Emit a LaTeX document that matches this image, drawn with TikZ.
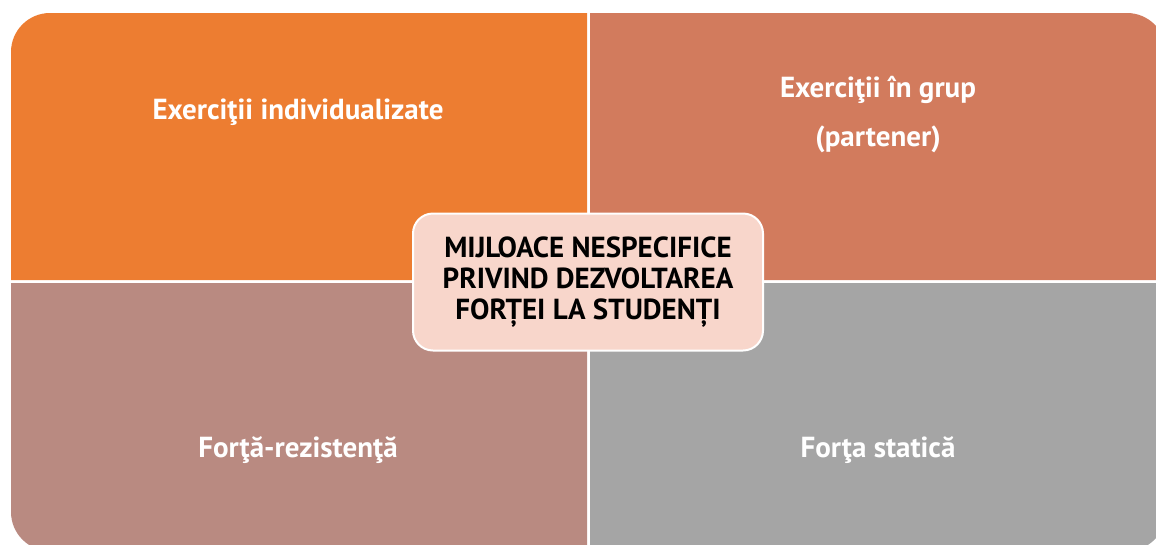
\documentclass[tikz,border=0pt]{standalone}
\usepackage{fontspec}
\setmainfont{PT Sans}
\definecolor{orangeq}{HTML}{ED7D31}
\definecolor{rustq}{HTML}{D27B5D}
\definecolor{roseq}{HTML}{B98A81}
\definecolor{greyq}{HTML}{A5A5A5}
\definecolor{pinkc}{HTML}{F8D6CB}
\tikzset{
  lbl/.style={text=white,font=\fontsize{29}{49}\selectfont\bfseries,align=center},
  hub/.style={rectangle,rounded corners=20pt,fill=pinkc,draw=white,line width=2pt,
    minimum width=350pt,minimum height=137pt,align=center,
    font=\fontsize{29}{31}\selectfont\bfseries}
}
\begin{document}
\begin{tikzpicture}[x=1pt,y=-1pt]
  \useasboundingbox (0,0) rectangle (1156,544);
  % quadrants
  \fill[orangeq] (587,280) -- (11,280) [rounded corners=39pt] -- (11,13) [sharp corners] -- (587,13) -- cycle;
  \fill[rustq] (590,280) -- (590,13) [rounded corners=39pt] -- (1166,13) [sharp corners] -- (1166,280) -- cycle;
  \fill[roseq] (587,283) -- (11,283) [rounded corners=39pt] -- (11,551) [sharp corners] -- (587,551) -- cycle;
  \fill[greyq] (590,283) -- (590,551) [rounded corners=39pt] -- (1166,551) [sharp corners] -- (1166,283) -- cycle;

  \node[lbl] (indiv) at (298,112) {Exerciţii individualizate};
  \node[lbl] (grup) at (878,115) {Exerciţii în grup\\(partener)};
  \node[lbl] (rezist) at (298,450) {Forţă-rezistenţă};
  \node[lbl] (static) at (878,450) {Forţa statică};

  \node[hub] (hub) at (588,282) {MIJLOACE NESPECIFICE\\PRIVIND DEZVOLTAREA\\FORȚEI LA STUDENȚI};
\end{tikzpicture}
\end{document}
